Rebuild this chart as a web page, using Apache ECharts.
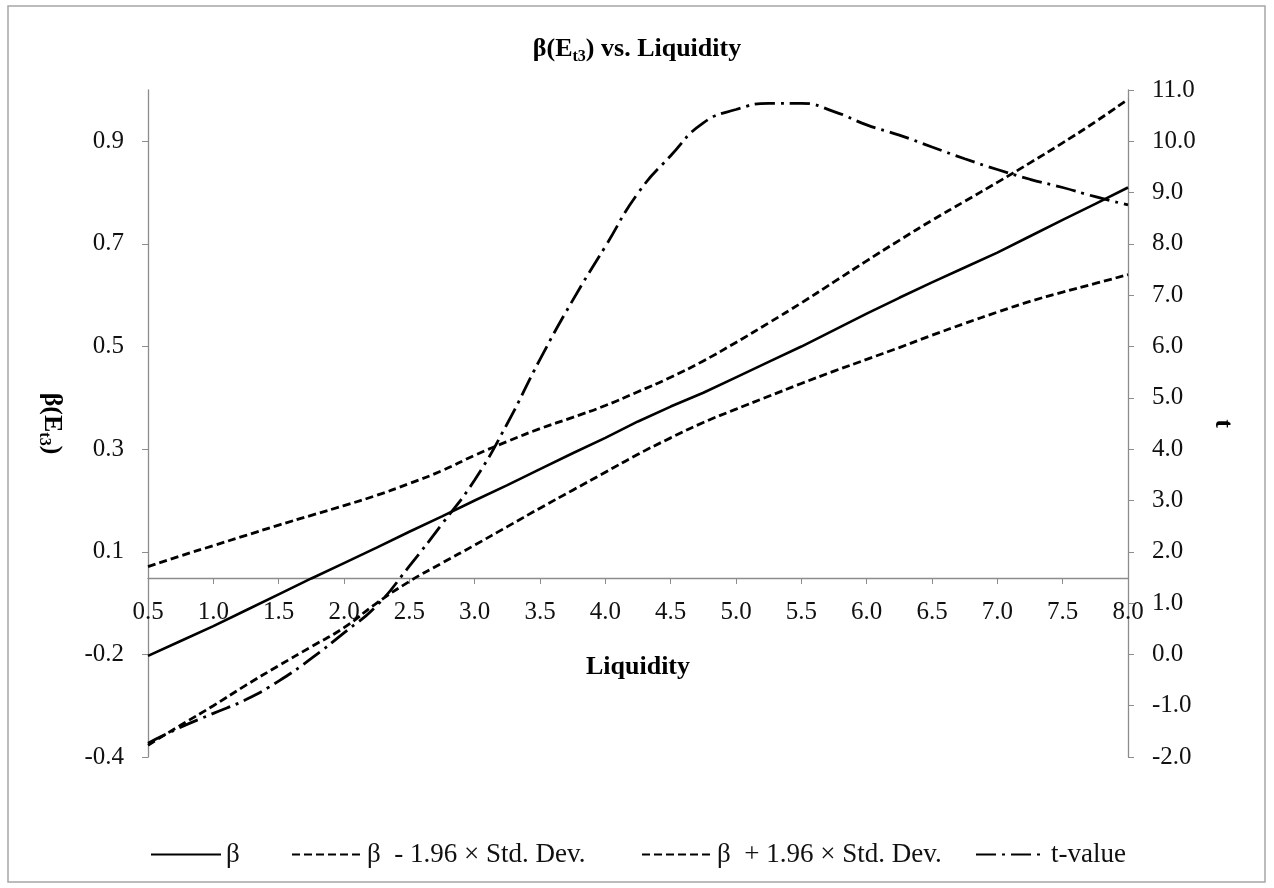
<!DOCTYPE html>
<html>
<head>
<meta charset="utf-8">
<script src="https://cdn.jsdelivr.net/npm/echarts@6/dist/echarts.min.js"></script>
<style>
html,body{margin:0;padding:0;background:#fff;}
#chart{width:1274px;height:888px;}
</style>
</head>
<body>
<div id="chart"></div>
<script>
// ---- data ----
const liquidity = [0.5,0.75,1.0,1.25,1.5,1.75,2.0,2.25,2.5,2.75,3.0,3.25,3.5,3.75,4.0,4.25,4.5,4.75,5.0,5.25,5.5,5.75,6.0,6.25,6.5,6.75,7.0,7.25,7.5,7.75,8.0];
const betaValues = [-0.153,-0.124,-0.095,-0.064,-0.033,-0.002,0.028,0.058,0.089,0.119,0.150,0.180,0.211,0.242,0.272,0.304,0.333,0.360,0.390,0.420,0.450,0.482,0.514,0.545,0.575,0.604,0.633,0.665,0.697,0.728,0.760];
const betaLower = [-0.327,-0.288,-0.250,-0.210,-0.172,-0.135,-0.098,-0.050,-0.008,0.028,0.063,0.099,0.135,0.170,0.205,0.240,0.272,0.302,0.328,0.353,0.378,0.402,0.425,0.448,0.472,0.495,0.517,0.538,0.556,0.573,0.590];
const betaUpper = [0.021,0.042,0.062,0.082,0.102,0.121,0.140,0.160,0.183,0.208,0.238,0.265,0.290,0.312,0.335,0.362,0.390,0.422,0.458,0.496,0.535,0.576,0.617,0.657,0.696,0.733,0.770,0.808,0.847,0.888,0.932];
const tValues = [-1.73,-1.42,-1.15,-0.88,-0.52,-0.08,0.42,0.95,1.72,2.54,3.40,4.50,5.75,6.90,7.95,8.99,9.72,10.36,10.62,10.74,10.74,10.58,10.32,10.12,9.89,9.66,9.45,9.26,9.10,8.92,8.76];
const leftTickLabels = ['-0.4','-0.2','0.1','0.3','0.5','0.7','0.9'];
const seriesNames = ['β','β  - 1.96 × Std. Dev.','β  + 1.96 × Std. Dev.','t-value'];

const FONT = "'Liberation Serif','Times New Roman',serif";
const pair = arr => liquidity.map((x,i)=>[x,arr[i]]);
const axisGray = '#8c8c8c';
const LEFT_MIN = -0.35, LEFT_STEP = 0.2;
const leftTickValues = leftTickLabels.map((_, i) => +(LEFT_MIN + LEFT_STEP * i).toFixed(3));
const richName = {
  b:{fontFamily:FONT, fontWeight:'bold', fontSize:26, lineHeight:32, color:'#000'},
  s:{fontFamily:FONT, fontWeight:'bold', fontSize:16, lineHeight:15, verticalAlign:'bottom', color:'#000'}
};

const chart = echarts.init(document.getElementById('chart'));
const mkLegend = (name, left) => ({
  data:[name], left:left, top:836, itemWidth:70, itemHeight:14,
  itemStyle:{opacity:0},
  textStyle:{fontFamily:FONT, fontSize:27, color:'#111'}, selectedMode:false
});
const option = {
  backgroundColor:'#fff',
  animation:false,
  title:{
    text:'{b|β(E}{s|t3}{b|) vs. Liquidity}',
    left:'center', top:28,
    textStyle:{rich:richName}
  },
  graphic:[{type:'rect', shape:{x:8,y:6,width:1257,height:876}, style:{fill:'none', stroke:'#a6a6a6', lineWidth:1.5}, silent:true}],
  legend:[
    mkLegend(seriesNames[0],145),
    mkLegend(seriesNames[1],286),
    mkLegend(seriesNames[2],636),
    mkLegend(seriesNames[3],970)
  ],
  grid:{left:148, right:146, top:90, bottom:131},
  xAxis:{
    type:'value', min:0.5, max:8, interval:0.5,
    position:'bottom', offset:-179,
    name:'Liquidity', nameLocation:'middle', nameGap:76,
    nameTextStyle:{fontFamily:FONT, fontWeight:'bold', fontSize:26, color:'#000'},
    axisLine:{onZero:false, lineStyle:{color:axisGray, width:1.3}},
    axisTick:{show:true, inside:false, length:6, lineStyle:{color:axisGray}},
    axisLabel:{fontFamily:FONT, fontSize:25, color:'#111', margin:22, formatter:v=>v.toFixed(1), showMinLabel:true, showMaxLabel:true},
    splitLine:{show:false}
  },
  yAxis:[
    {
      type:'value', min:LEFT_MIN, max:0.95, interval:LEFT_STEP, position:'left',
      name:'{b|β(E}{s|t3}{b|)}', nameLocation:'middle', nameGap:80, nameRotate:-90,
      nameTextStyle:{rich:richName},
      axisLine:{show:true, onZero:false, lineStyle:{color:axisGray, width:1.3}},
      axisTick:{show:true, inside:false, length:6, customValues:leftTickValues, lineStyle:{color:axisGray}},
      axisLabel:{fontFamily:FONT, fontSize:25, color:'#111', margin:24,
        formatter:(v,i)=> leftTickLabels[i] !== undefined ? leftTickLabels[i] : ''},
      splitLine:{show:false}
    },
    {
      type:'value', min:-2, max:11, interval:1, position:'right',
      name:'t', nameLocation:'middle', nameGap:82, nameRotate:-90,
      nameTextStyle:{fontFamily:FONT, fontWeight:'bold', fontSize:26, color:'#000'},
      axisLine:{show:true, onZero:false, lineStyle:{color:axisGray, width:1.3}},
      axisTick:{show:true, inside:false, length:6, lineStyle:{color:axisGray}},
      axisLabel:{fontFamily:FONT, fontSize:25, color:'#111', margin:24, formatter:v=>v.toFixed(1)},
      splitLine:{show:false}
    }
  ],
  series:[
    {name:seriesNames[0], type:'line', yAxisIndex:0, data:pair(betaValues), symbol:'none', smooth:false,
      lineStyle:{color:'#000', width:2.6, type:'solid'}, itemStyle:{color:'#000'}},
    {name:seriesNames[1], type:'line', yAxisIndex:0, data:pair(betaLower), symbol:'none', smooth:true,
      lineStyle:{color:'#000', width:2.8, type:[8,4]}, itemStyle:{color:'#000'}},
    {name:seriesNames[2], type:'line', yAxisIndex:0, data:pair(betaUpper), symbol:'none', smooth:true,
      lineStyle:{color:'#000', width:2.8, type:[8,4]}, itemStyle:{color:'#000'}},
    {name:seriesNames[3], type:'line', yAxisIndex:1, data:pair(tValues), symbol:'none', smooth:true,
      lineStyle:{color:'#000', width:2.8, type:[20,6,3,6]}, itemStyle:{color:'#000'}}
  ]
};
chart.setOption(option);
</script>
</body>
</html>
